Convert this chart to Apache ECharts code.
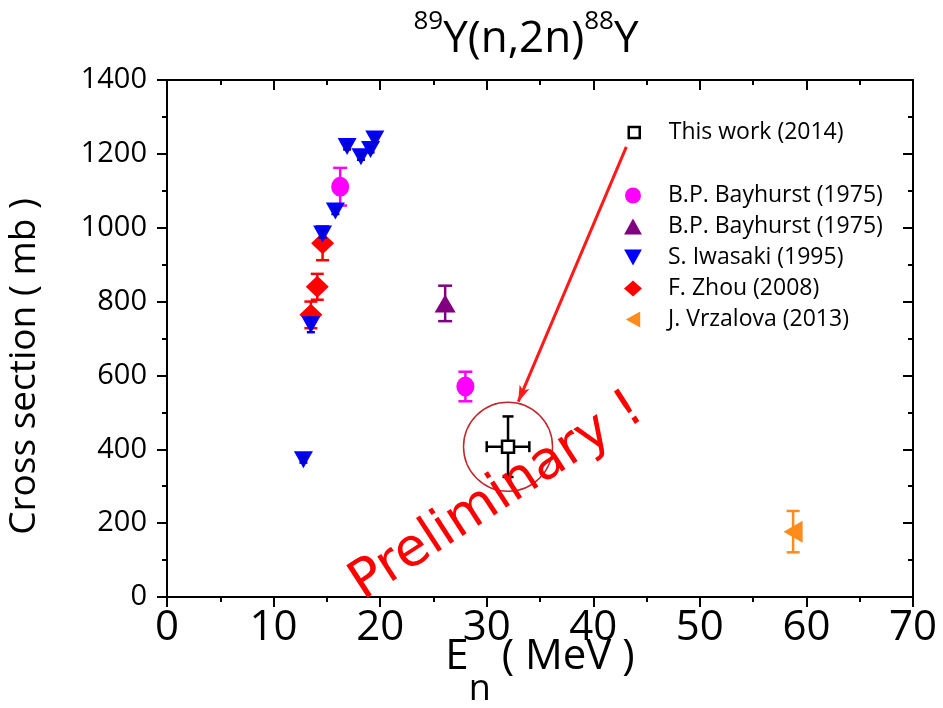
<!DOCTYPE html>
<html><head><meta charset="utf-8">
<script src="https://cdn.jsdelivr.net/npm/echarts@6/dist/echarts.min.js"></script>
<style>html,body{margin:0;padding:0;background:#fff}#c{width:943px;height:708px}</style>
</head><body><div id="c"></div>
<script>
// ---- data ----
const xTicks = [0, 10, 20, 30, 40, 50, 60, 70];
const yTicks = [0, 200, 400, 600, 800, 1000, 1200, 1400];
// [E (MeV), sigma (mb), dSigma (mb), dE (MeV)]
const thisWork = [[32.0, 407, 82, 2.0]];
const bayhurstCirc = [[16.25, 1111, 51], [28.0, 570, 40]];
const bayhurstTri = [[26.1, 795, 48]];
const iwasaki = [[12.8, 372, 8], [13.5, 737, 20], [14.6, 983, 10], [15.8, 1045, 8],
                 [16.9, 1220, 8], [18.2, 1192, 8], [19.1, 1212, 8], [19.5, 1240, 8]];
const zhou = [[13.5, 764, 36], [14.1, 840, 35], [14.6, 958, 46]];
const vrzalova = [[58.75, 177, 56]];
const arrowFrom = [43.1, 1219];
const arrowTo = [32.96, 529];
const labels = {
  tw: 'This work (2014)', bc: 'B.P. Bayhurst (1975)', bt: 'B.P. Bayhurst (1975)',
  iw: 'S. Iwasaki (1995)', zh: 'F. Zhou (2008)', vr: 'J. Vrzalova (2013)'
};
// ---------------
const FF = '"Open Sans", "Noto Sans", sans-serif';
const chart = echarts.init(document.getElementById('c'), null, {renderer: 'canvas'});

function errSeries(data, color, capW, z) {
  return {
    type: 'custom', data: data, z: z, silent: true, animation: false,
    dimensions: ['x', 'y', 'dy', 'dx'], encode: {x: 0, y: 1},
    renderItem: function (params, api) {
      const x = api.value(0), y = api.value(1), dy = api.value(2);
      let dx = api.value(3); if (!(dx > 0)) dx = 0;
      const st = {stroke: color, lineWidth: 2.5};
      const lo = api.coord([x, y - dy]), hi = api.coord([x, y + dy]);
      const ch = [
        {type: 'line', shape: {x1: lo[0], y1: lo[1], x2: hi[0], y2: hi[1]}, style: st},
        {type: 'line', shape: {x1: lo[0] - capW / 2, y1: lo[1], x2: lo[0] + capW / 2, y2: lo[1]}, style: st},
        {type: 'line', shape: {x1: hi[0] - capW / 2, y1: hi[1], x2: hi[0] + capW / 2, y2: hi[1]}, style: st}
      ];
      if (dx) {
        const l = api.coord([x - dx, y]), r = api.coord([x + dx, y]);
        ch.push({type: 'line', shape: {x1: l[0], y1: l[1], x2: r[0], y2: r[1]}, style: st});
        ch.push({type: 'line', shape: {x1: l[0], y1: l[1] - capW / 2, x2: l[0], y2: l[1] + capW / 2}, style: st});
        ch.push({type: 'line', shape: {x1: r[0], y1: r[1] - capW / 2, x2: r[0], y2: r[1] + capW / 2}, style: st});
      }
      return {type: 'group', children: ch};
    }
  };
}

const axisCommon = {
  axisLine: {show: true, onZero: false, lineStyle: {color: '#000', width: 2}},
  axisTick: {show: true, length: 10, lineStyle: {color: '#000', width: 2}},
  minorTick: {show: true, splitNumber: 2, length: 5, lineStyle: {color: '#000', width: 2}},
  splitLine: {show: false}
};

const option = {
  animation: false,
  backgroundColor: '#fff',
  title: {
    text: '{sup|89}{m|Y(n,2n)}{sup|88}{m|Y}',
    left: 526, top: 9, textAlign: 'center', padding: 0,
    textStyle: {
      fontWeight: 'normal',
      rich: {
        sup: {fontSize: 26, fontFamily: FF, fontWeight: 'normal', color: '#000', verticalAlign: 'top', lineHeight: 26},
        m: {fontSize: 44, fontFamily: FF, fontWeight: 'normal', color: '#000', verticalAlign: 'bottom', lineHeight: 52}
      }
    }
  },
  grid: {left: 167, right: 30, top: 80, bottom: 111, containLabel: false, outerBoundsMode: 'none'},
  legend: [
    {
      data: [{name: 'tw', icon: 'rect', itemStyle: {color: '#fff', borderColor: '#000', borderWidth: 2.5}}],
      orient: 'vertical', left: 627.5, top: 117, padding: 0, itemWidth: 11, itemHeight: 11, itemGap: 0,
      formatter: n => labels[n], selectedMode: false,
      textStyle: {fontSize: 23, fontFamily: FF, color: '#000', lineHeight: 31, padding: [0, 0, 0, 24]}
    },
    {
      data: [
        {name: 'bc', icon: 'circle'},
        {name: 'bt', icon: 'path://M10,0L20,18L0,18Z'},
        {name: 'iw', icon: 'path://M0,0L20,0L10,18Z'},
        {name: 'zh', icon: 'diamond'},
        {name: 'vr', icon: 'path://M18,0L18,20L0,10Z'}
      ],
      orient: 'vertical', left: 624, top: 180, padding: 0, itemWidth: 18, itemHeight: 16, itemGap: 0,
      formatter: n => labels[n], selectedMode: false,
      textStyle: {fontSize: 23, fontFamily: FF, color: '#000', lineHeight: 31, padding: [0, 0, 0, 21]}
    }
  ],
  xAxis: [
    Object.assign({}, axisCommon, {
      type: 'value', position: 'bottom', min: xTicks[0], max: xTicks[xTicks.length - 1], interval: 10,
      name: '{m|E}{sub|n}{m| ( MeV )}', nameLocation: 'middle', nameGap: 39, nameMoveOverlap: false,
      nameTextStyle: {
        rich: {
          m: {fontSize: 42, fontFamily: FF, color: '#000', verticalAlign: 'top', lineHeight: 46},
          sub: {fontSize: 36, fontFamily: FF, color: '#000', verticalAlign: 'bottom', lineHeight: 72}
        }
      },
      axisLabel: {fontSize: 42, fontFamily: FF, color: '#000', margin: 10, formatter: v => String(v)},
      axisTick: Object.assign({}, axisCommon.axisTick, {inside: false})
    }),
    Object.assign({}, axisCommon, {
      type: 'value', position: 'top', min: xTicks[0], max: xTicks[xTicks.length - 1], interval: 10,
      axisLabel: {show: false},
      axisTick: Object.assign({}, axisCommon.axisTick, {inside: true})
    })
  ],
  yAxis: [
    Object.assign({}, axisCommon, {
      type: 'value', position: 'left', min: yTicks[0], max: yTicks[yTicks.length - 1], interval: 200,
      name: 'Cross section ( mb )', nameLocation: 'middle', nameGap: 124,
      nameTextStyle: {fontSize: 37, fontFamily: FF, color: '#000', padding: [0, 56, 0, 0]},
      axisLabel: {fontSize: 29, fontFamily: FF, color: '#000', margin: 20, formatter: v => String(v)},
      axisTick: Object.assign({}, axisCommon.axisTick, {inside: false})
    }),
    Object.assign({}, axisCommon, {
      type: 'value', position: 'right', min: yTicks[0], max: yTicks[yTicks.length - 1], interval: 200,
      axisLabel: {show: false},
      axisTick: Object.assign({}, axisCommon.axisTick, {inside: true})
    })
  ],
  series: [
    errSeries(bayhurstCirc, '#ff00ff', 14, 2),
    errSeries(bayhurstTri, '#800080', 14, 2),
    errSeries(zhou, '#ff0000', 13, 2),
    errSeries(vrzalova, '#ff8c1a', 13, 2),
    errSeries(thisWork, '#000', 11, 2),
    {name: 'bc', type: 'scatter', data: bayhurstCirc, symbol: 'circle', symbolSize: [18, 20], z: 3,
     itemStyle: {color: '#ff00ff', opacity: 1}},
    {name: 'bt', type: 'scatter', data: bayhurstTri, symbol: 'triangle', symbolSize: [21, 18], z: 3,
     itemStyle: {color: '#800080', opacity: 1}},
    {name: 'zh', type: 'scatter', data: zhou, symbol: 'diamond', symbolSize: [23, 22], z: 3,
     itemStyle: {color: '#ff0000', opacity: 1}},
    {name: 'iw', type: 'scatter', data: iwasaki, symbol: 'triangle', symbolRotate: 180, symbolSize: [19, 17], z: 4,
     itemStyle: {color: '#0000ff', opacity: 1}},
    errSeries(iwasaki, '#0000cc', 8, 5),
    {name: 'vr', type: 'scatter', data: vrzalova, symbol: 'triangle', symbolRotate: 90, symbolSize: [22, 19], z: 3,
     itemStyle: {color: '#ff8c1a', opacity: 1}},
    {name: 'tw', type: 'scatter', data: thisWork, symbol: 'rect', symbolSize: 12, z: 6,
     itemStyle: {color: '#fff', borderColor: '#000', borderWidth: 2.5, opacity: 1},
     markLine: {
       silent: true, symbol: ['none', 'arrow'], symbolSize: [8, 16], label: {show: false},
       lineStyle: {color: '#ff1a1a', width: 3, type: 'solid'},
       data: [[{coord: arrowFrom}, {coord: arrowTo}]]
     }},
    {type: 'scatter', data: thisWork.map(d => [d[0], d[1]]), symbol: 'circle', symbolSize: 89, z: 1, silent: true,
     itemStyle: {color: 'rgba(0,0,0,0)', borderColor: '#c1272d', borderWidth: 1.5, opacity: 1}}
  ],
  graphic: [
    {type: 'text', x: 497, y: 497, rotation: 33 * Math.PI / 180, z: 100,
     style: {text: 'Preliminary !', fill: '#ff0000', fontSize: 53, fontFamily: '"DejaVu Sans", sans-serif',
             align: 'center', verticalAlign: 'middle'}}
  ]
};
chart.setOption(option);
</script></body></html>
